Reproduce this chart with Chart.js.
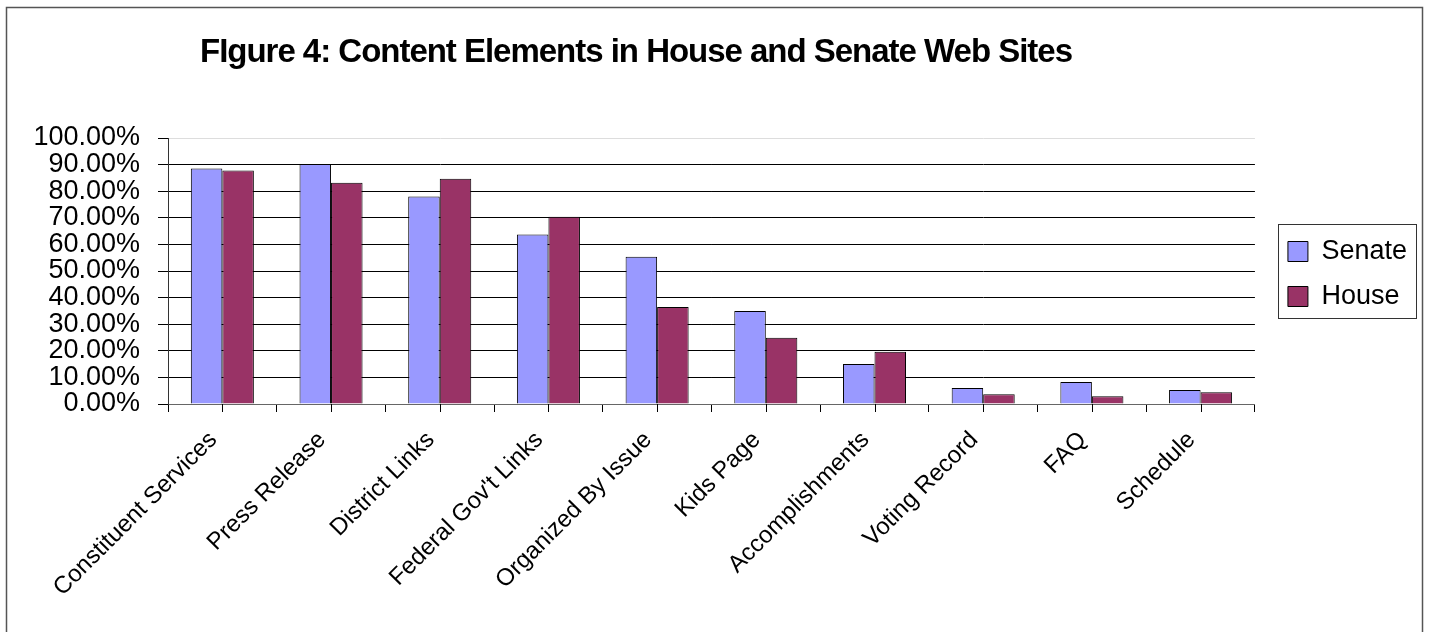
<!DOCTYPE html>
<html lang="en">
  <head>
    <meta charset="UTF-8" />
    <title>Figure 4</title>
    <style>
      * {
        margin: 0;
        padding: 0;
        box-sizing: border-box;
      }
      body {
        background: #ffffff;
        overflow: hidden;
      }
      canvas {
        display: block;
      }
    </style>
    <script src="https://cdn.jsdelivr.net/npm/chart.js@4.4.0/dist/chart.umd.min.js"></script>
  </head>
  <body>
    <canvas id="myChart" width="1429" height="632"></canvas>

    <script>
      // data (percent)
      const categories = [
        "Constituent Services",
        "Press Release",
        "District Links",
        "Federal Gov't Links",
        "Organized By Issue",
        "Kids Page",
        "Accomplishments",
        "Voting Record",
        "FAQ",
        "Schedule",
      ];
      const senate = [88.5, 90.2, 78.0, 63.7, 55.4, 35.0, 15.0, 6.0, 8.3, 5.3];
      const house = [87.8, 83.2, 84.7, 70.4, 36.5, 24.9, 19.6, 3.7, 2.9, 4.4];
      const titleText = "FIgure 4: Content Elements in House and Senate Web Sites";

      const FONT = "'Liberation Sans', Arial, sans-serif";
      Chart.defaults.font.family = FONT;
      Chart.defaults.color = "#000";

      // outer frame + title
      const framePlugin = {
        id: "frame",
        beforeDraw(chart) {
          const ctx = chart.ctx;
          ctx.save();
          ctx.fillStyle = "#fff";
          ctx.fillRect(0, 0, chart.width, chart.height);
          ctx.strokeStyle = "#555";
          ctx.lineWidth = 1.5;
          ctx.strokeRect(6.5, 7.5, 1416, 700);
          ctx.restore();
        },
        afterDraw(chart) {
          const ctx = chart.ctx;
          ctx.save();
          ctx.font = "bold 33px " + FONT;
          ctx.fillStyle = "#000";
          ctx.textBaseline = "alphabetic";
          const w = ctx.measureText(titleText).width;
          ctx.letterSpacing = (873 - w) / (titleText.length - 1) + "px";
          ctx.fillText(titleText, 200, 62);
          ctx.restore();
        },
      };

      // extra tick marks under each bar pair
      const centerTicks = {
        id: "centerTicks",
        afterDraw(chart) {
          const x = chart.scales.x;
          const ctx = chart.ctx;
          ctx.save();
          ctx.strokeStyle = "#000";
          ctx.lineWidth = 1;
          ctx.beginPath();
          categories.forEach((c, i) => {
            const px = Math.round(x.getPixelForValue(i)) + 0.5;
            ctx.moveTo(px, x.top);
            ctx.lineTo(px, x.top + 8);
          });
          ctx.stroke();
          ctx.restore();
        },
      };

      // move legend a bit and draw its box
      const legendBox = {
        id: "legendBox",
        afterLayout(chart) {
          const lg = chart.legend;
          lg.left += 15;
          lg.right += 15;
          lg.top += 3;
          lg.bottom += 3;
        },
        afterDraw(chart) {
          const lg = chart.legend;
          const pad = 18;
          const itemTop = (lg.top + pad + lg.bottom - 90) / 2;
          const x0 = lg.left + pad - 10;
          const y0 = itemTop + 3.5 - 18;
          const ctx = chart.ctx;
          ctx.save();
          ctx.strokeStyle = "#333";
          ctx.lineWidth = 1;
          ctx.strokeRect(Math.round(x0) + 0.5, Math.round(y0) + 0.5, 138, 94);
          ctx.restore();
        },
      };

      const ctx = document.getElementById("myChart").getContext("2d");
      const myChart = new Chart(ctx, {
        type: "bar",
        data: {
          labels: categories,
          datasets: [
            {
              label: "Senate",
              data: senate,
              backgroundColor: "#9999ff",
              borderColor: "#000",
              borderWidth: 1,
              categoryPercentage: 0.58,
              barPercentage: 1,
            },
            {
              label: "House",
              data: house,
              backgroundColor: "#993366",
              borderColor: "#000",
              borderWidth: 1,
              categoryPercentage: 0.58,
              barPercentage: 1,
            },
          ],
        },
        options: {
          responsive: false,
          animation: false,
          layout: {
            padding: { top: 138, right: 27, bottom: 0, left: 0 },
          },
          plugins: {
            title: { display: false },
            tooltip: { enabled: false },
            legend: {
              position: "right",
              fullSize: false,
              labels: {
                boxWidth: 20,
                boxHeight: 20,
                padding: 18,
                font: { size: 27 },
                color: "#000",
              },
            },
          },
          scales: {
            x: {
              offset: true,
              afterFit(scale) {
                scale.height = 228;
              },
              grid: {
                offset: true,
                drawOnChartArea: false,
                tickLength: 8,
                color: "#000",
              },
              border: { color: "#666" },
              ticks: {
                autoSkip: false,
                minRotation: 45,
                maxRotation: 45,
                padding: 14,
                labelOffset: -9,
                font: { size: 24 },
                color: "#000",
              },
            },
            y: {
              min: 0,
              max: 100,
              afterFit(scale) {
                scale.width = 168;
              },
              grid: {
                tickLength: 10,
                tickColor: "#000",
                color: (c) =>
                  c.tick.value === 100 ? "#dddddd" : c.tick.value === 0 ? "#666" : "#000",
              },
              border: { color: "#333" },
              ticks: {
                autoSkip: false,
                stepSize: 10,
                padding: 18,
                font: { size: 27 },
                color: "#000",
                callback: (v) => v.toFixed(2) + "%",
              },
            },
          },
        },
        plugins: [framePlugin, centerTicks, legendBox],
      });
    </script>
  </body>
</html>
